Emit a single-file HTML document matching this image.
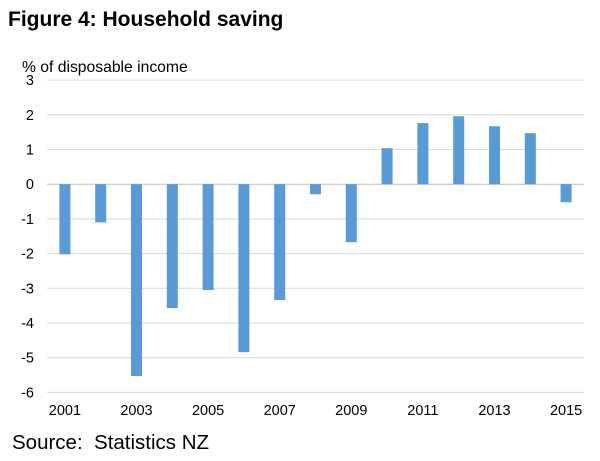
<!DOCTYPE html>
<html><head><meta charset="utf-8"><style>
body{margin:0;background:#fff;width:600px;height:456px;overflow:hidden;font-family:"Liberation Sans",Arial,sans-serif}
</style></head><body>
<svg width="600" height="456">
<text x="8" y="26" font-size="21" font-weight="bold" fill="#000">Figure 4: Household saving</text>
<text x="22" y="72" font-size="15.7" fill="#000">% of disposable income</text>
<text x="12" y="449" font-size="20.5" fill="#000" style="white-space:pre">Source:  Statistics NZ</text>
<g id="grid"></g><g id="bars"></g><g id="labels"></g>
</svg>
<script>
const years=["2001","2002","2003","2004","2005","2006","2007","2008","2009","2010","2011","2012","2013","2014","2015"];
const values=[-2.02,-1.1,-5.53,-3.57,-3.05,-4.84,-3.34,-0.29,-1.67,1.04,1.76,1.96,1.67,1.47,-0.52];
const yTicks=[3,2,1,0,-1,-2,-3,-4,-5,-6];
const xLabels=["2001","2003","2005","2007","2009","2011","2013","2015"];
const NS="http://www.w3.org/2000/svg";
const left=47,right=584,y0=184.2,unit=34.7;
const y=v=>y0-v*unit;
const step=(right-left)/years.length;
const xc=i=>left+step*(i+0.5);
const grid=document.getElementById('grid'),bars=document.getElementById('bars'),labels=document.getElementById('labels');
yTicks.forEach(t=>{
 const l=document.createElementNS(NS,'line');
 l.setAttribute('x1',left);l.setAttribute('x2',right);l.setAttribute('y1',y(t));l.setAttribute('y2',y(t));
 l.setAttribute('stroke',t===0?'#bfbfbf':'#d9d9d9');l.setAttribute('stroke-width','1');
 
 
 grid.appendChild(l);
 const tx=document.createElementNS(NS,'text');
 tx.setAttribute('x',34);tx.setAttribute('y',y(t)+5);tx.setAttribute('text-anchor','end');tx.setAttribute('font-size','14.5');
 tx.textContent=t;
 
 
 labels.appendChild(tx);
});
values.forEach((v,i)=>{
 const r=document.createElementNS(NS,'rect');
 const w=11;
 r.setAttribute('x',xc(i)-w/2);r.setAttribute('width',w);
 r.setAttribute('y',Math.min(y(v),y0));r.setAttribute('height',Math.abs(y(v)-y0));
 r.setAttribute('fill','#5b9bd5');
 
 
 bars.appendChild(r);
});
xLabels.forEach(lb=>{
 const i=years.indexOf(lb);
 const tx=document.createElementNS(NS,'text');
 tx.setAttribute('x',xc(i));tx.setAttribute('y',415);tx.setAttribute('text-anchor','middle');tx.setAttribute('font-size','14.5');
 tx.textContent=lb;
 
 
 labels.appendChild(tx);
});
</script>
</body></html>
